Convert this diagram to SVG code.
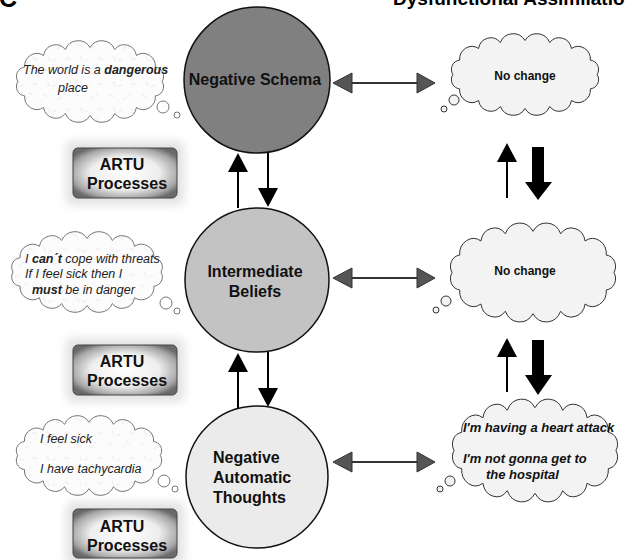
<svg xmlns="http://www.w3.org/2000/svg" xmlns:xlink="http://www.w3.org/1999/xlink" width="625" height="560" viewBox="0 0 625 560">
<defs>
  <style>
    .circ { stroke:#111; stroke-width:1.5; }
    .ctext { font-family:"Liberation Sans", Arial, sans-serif; font-weight:bold; font-size:16px; fill:#111; }
    .artu { font-family:"Liberation Sans", Arial, sans-serif; font-weight:bold; font-size:16px; fill:#111; text-anchor:middle; }
    .lcloud { fill:url(#tex); stroke:#666; stroke-width:0.9; }
    .rcloud { fill:#f3f3f3; stroke:#333; stroke-width:1; }
    .lbub { fill:#fff; stroke:#666; stroke-width:0.9; }
    .rbub { fill:#f3f3f3; stroke:#333; stroke-width:1; }
    .it { font-family:"Liberation Sans", Arial, sans-serif; font-style:italic; font-size:12.5px; fill:#222; }
    .bi { font-family:"Liberation Sans", Arial, sans-serif; font-style:italic; font-weight:bold; font-size:13px; fill:#111; }
    .nc { font-family:"Liberation Sans", Arial, sans-serif; font-weight:bold; font-size:12px; fill:#111; text-anchor:middle; }
    .blk { stroke:#000; stroke-width:2; fill:none; }
    .hd { fill:#000; }
    .hline { stroke:#333; stroke-width:2; }
    .hhead { fill:#555; stroke:#333; stroke-width:1; }
    .box { fill:url(#boxg); stroke:#444; stroke-width:1; }
    .glow { fill:#e2e2e2; filter:url(#blur); }
  </style>
  <radialGradient id="boxg" cx="0.5" cy="0.5" r="0.6">
    <stop offset="0" stop-color="#ffffff"/>
    <stop offset="0.55" stop-color="#eeeeee"/>
    <stop offset="0.85" stop-color="#a8a8a8"/>
    <stop offset="1" stop-color="#6a6a6a"/>
  </radialGradient>
  <filter id="blur" x="-30%" y="-50%" width="160%" height="200%">
    <feGaussianBlur stdDeviation="5"/>
  </filter>
  <pattern id="tex" width="40" height="30" patternUnits="userSpaceOnUse">
    <rect width="40" height="30" fill="#fcfcfc"/>
    <path d="M3,5 l6,3 M20,12 l5,-4 M30,22 l6,2 M8,20 l3,6 M26,3 l4,3 M14,26 l5,-2" stroke="#d8d8d8" stroke-width="0.7" fill="none"/>
  </pattern>
  <path id="cloud" d="M188,50 A11,11 0 0 1 179.7,66.9 A15,15 0 0 1 156.6,80.6 A15,15 0 0 1 130.1,87.6 A17,17 0 0 1 100,90 A17,17 0 0 1 69.9,87.6 A15,15 0 0 1 43.4,80.6 A15,15 0 0 1 20.3,66.9 A11,11 0 0 1 12,50 A11,11 0 0 1 20.3,33.1 A15,15 0 0 1 43.4,19.4 A15,15 0 0 1 69.9,12.4 A17,17 0 0 1 100,10 A17,17 0 0 1 130.1,12.4 A15,15 0 0 1 156.6,19.4 A15,15 0 0 1 179.7,33.1 A11,11 0 0 1 188,50 Z" vector-effect="non-scaling-stroke"/>
</defs>

<rect width="625" height="560" fill="#fff"/>

<g id="titles">
  <text x="-1" y="7" font-family="Liberation Sans, Arial, sans-serif" font-weight="bold" font-size="25" fill="#000">C</text>
  <text x="393" y="5" font-family="Liberation Sans, Arial, sans-serif" font-weight="bold" font-size="19" fill="#000">Dysfunctional Assimilation</text>
</g>

<g id="connectors">
  <!-- left vertical arrows -->
  <line class="blk" x1="238" y1="208" x2="238" y2="170"/>
  <polygon class="hd" points="228,172 238,153 248,172"/>
  <line class="blk" x1="268" y1="152" x2="268" y2="190"/>
  <polygon class="hd" points="258,188 278,188 268,207"/>
  <line class="blk" x1="238" y1="408" x2="238" y2="370"/>
  <polygon class="hd" points="228,372 238,353 248,372"/>
  <line class="blk" x1="268" y1="352" x2="268" y2="390"/>
  <polygon class="hd" points="258,388 278,388 268,407"/>
  <!-- horizontal double arrows -->
  <line class="hline" x1="350" y1="83" x2="419" y2="83"/>
  <polygon class="hhead" points="352,73 333,83 352,93"/>
  <polygon class="hhead" points="417,73 435,83 417,93"/>
  <line class="hline" x1="350" y1="278" x2="419" y2="278"/>
  <polygon class="hhead" points="352,268 333,278 352,288"/>
  <polygon class="hhead" points="417,268 435,278 417,288"/>
  <line class="hline" x1="350" y1="462" x2="419" y2="462"/>
  <polygon class="hhead" points="352,452 333,462 352,472"/>
  <polygon class="hhead" points="417,452 435,462 417,472"/>
  <!-- right vertical arrows -->
  <line class="blk" x1="507" y1="198" x2="507" y2="160"/>
  <polygon class="hd" points="497,162 507,143 517,162"/>
  <rect class="hd" x="532" y="147" width="12" height="37"/>
  <polygon class="hd" points="525,182 552,182 538,200"/>
  <line class="blk" x1="507" y1="392" x2="507" y2="355"/>
  <polygon class="hd" points="497,357 507,338 517,357"/>
  <rect class="hd" x="532" y="340" width="12" height="37"/>
  <polygon class="hd" points="525,375 552,375 538,395"/>
</g>

<g id="node-negative-schema">
  <circle class="circ" cx="257" cy="80" r="73" fill="#808080"/>
  <text class="ctext" x="255" y="85" text-anchor="middle">Negative Schema</text>
</g>
<g id="node-intermediate-beliefs">
  <circle class="circ" cx="257" cy="280" r="72" fill="#c3c3c3"/>
  <text class="ctext" x="255" y="277" text-anchor="middle">Intermediate</text>
  <text class="ctext" x="255" y="297" text-anchor="middle">Beliefs</text>
</g>
<g id="node-negative-automatic-thoughts">
  <circle class="circ" cx="257" cy="477" r="71" fill="#ebebeb"/>
  <text class="ctext" x="213" y="463">Negative</text>
  <text class="ctext" x="213" y="483">Automatic</text>
  <text class="ctext" x="213" y="503">Thoughts</text>
</g>

<g id="artu-1">
  <rect class="glow" x="66" y="141" width="118" height="64" rx="6"/>
  <rect class="box" x="73" y="148" width="104" height="50" rx="5"/>
  <text class="artu" x="122" y="170">ARTU</text>
  <text class="artu" x="127" y="189">Processes</text>
</g>
<g id="artu-2">
  <rect class="glow" x="66" y="338" width="118" height="64" rx="6"/>
  <rect class="box" x="73" y="345" width="104" height="50" rx="5"/>
  <text class="artu" x="122" y="367">ARTU</text>
  <text class="artu" x="127" y="386">Processes</text>
</g>
<g id="artu-3">
  <rect class="glow" x="66" y="502" width="118" height="64" rx="6"/>
  <rect class="box" x="73" y="509" width="104" height="49" rx="5"/>
  <text class="artu" x="122" y="532">ARTU</text>
  <text class="artu" x="127" y="551">Processes</text>
</g>

<g id="cloud-left-1">
  <use href="#cloud" class="lcloud" transform="translate(8,39) scale(0.82,0.85)"/>
  <circle class="lbub" cx="163" cy="107" r="6"/>
  <circle class="lbub" cx="177" cy="115" r="3"/>
  <text class="it" x="23" y="74">The world is a <tspan font-weight="bold">dangerous</tspan></text>
  <text class="it" x="58" y="92">place</text>
</g>
<g id="cloud-left-2">
  <use href="#cloud" class="lcloud" transform="translate(3,230) scale(0.84,0.84)"/>
  <circle class="lbub" cx="166" cy="303" r="6"/>
  <circle class="lbub" cx="177" cy="311" r="3"/>
  <text class="it" x="25" y="263">I <tspan font-weight="bold">can´t</tspan> cope with threats</text>
  <text class="it" x="25" y="278">If I feel sick then I</text>
  <text class="it" x="32" y="294"><tspan font-weight="bold">must</tspan> be in danger</text>
</g>
<g id="cloud-left-3">
  <use href="#cloud" class="lcloud" transform="translate(8,414) scale(0.81,0.83)"/>
  <circle class="lbub" cx="164" cy="481" r="6"/>
  <circle class="lbub" cx="175" cy="489" r="3"/>
  <text class="it" x="40" y="443">I feel sick</text>
  <text class="it" x="40" y="473">I have tachycardia</text>
</g>

<g id="cloud-right-1">
  <use href="#cloud" class="rcloud" transform="translate(443,32) scale(0.82,0.85)"/>
  <circle class="rbub" cx="454" cy="100" r="5"/>
  <circle class="rbub" cx="444" cy="109" r="3"/>
  <text class="nc" x="525" y="80">No change</text>
</g>
<g id="cloud-right-2">
  <use href="#cloud" class="rcloud" transform="translate(441,221) scale(0.92,1.03)"/>
  <circle class="rbub" cx="446" cy="301" r="5"/>
  <circle class="rbub" cx="436" cy="310" r="3"/>
  <text class="nc" x="525" y="275">No change</text>
</g>
<g id="cloud-right-3">
  <use href="#cloud" class="rcloud" transform="translate(443,397) scale(0.92,1.07)"/>
  <circle class="rbub" cx="450" cy="481" r="5"/>
  <circle class="rbub" cx="440" cy="489" r="3"/>
  <text class="bi" x="463" y="432">I'm having a heart attack</text>
  <text class="bi" x="463" y="463">I'm not gonna get to</text>
  <text class="bi" x="486" y="479">the hospital</text>
</g>
</svg>
